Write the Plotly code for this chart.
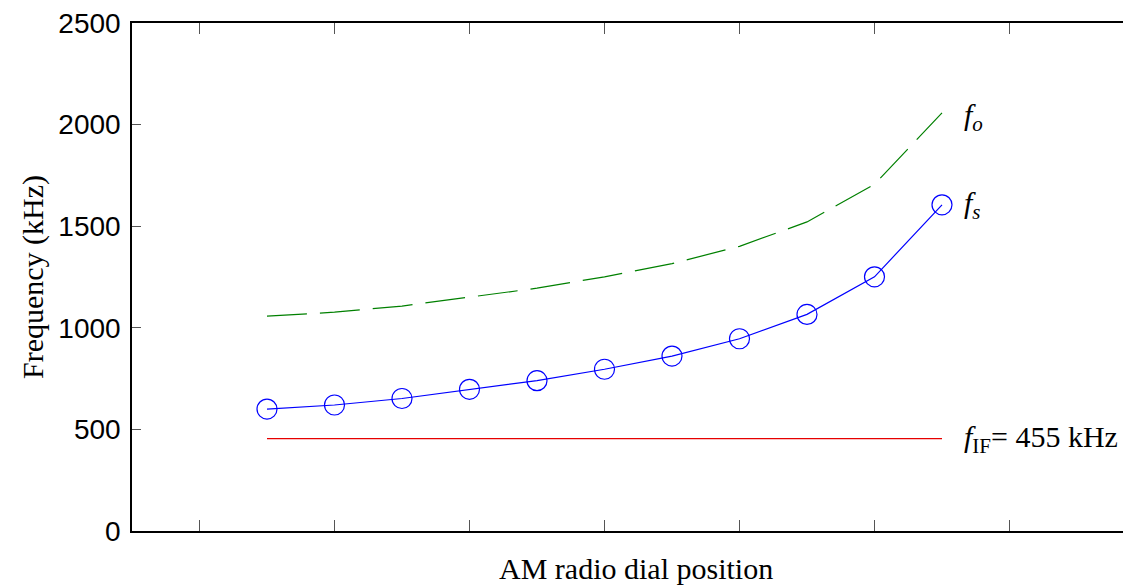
import plotly.graph_objects as go

# Dial positions
dial = [1, 2, 3, 4, 5, 6, 7, 8, 9, 10, 11]
# Signal frequency f_s (kHz)
fs_khz = [600, 620, 652, 697, 740, 796, 861, 946, 1066, 1251, 1605]
# Local oscillator frequency f_o (kHz)
fo_khz = [1057, 1077, 1107, 1152, 1195, 1251, 1316, 1401, 1521, 1706, 2058]
# Intermediate frequency line
if_x = [1, 11]
if_khz = [455, 455]

x_ticks = [0, 2, 4, 6, 8, 10, 12]
y_ticks = [0, 500, 1000, 1500, 2000, 2500]

fig = go.Figure()

fig.add_trace(go.Scatter(
    x=dial, y=fo_khz, mode="lines",
    line=dict(color="rgb(0,128,0)", width=1.2, dash="40px,13px"),
    showlegend=False))

fig.add_trace(go.Scatter(
    x=dial, y=fs_khz, mode="lines+markers",
    line=dict(color="rgb(0,0,255)", width=1.2),
    marker=dict(symbol="circle-open", size=20, color="rgb(0,0,255)",
                line=dict(width=1.2, color="rgb(0,0,255)")),
    showlegend=False))

fig.add_trace(go.Scatter(
    x=if_x, y=if_khz, mode="lines",
    line=dict(color="rgb(230,0,0)", width=1.2),
    showlegend=False))

serif = "Liberation Serif, Times New Roman, serif"
ann_font = dict(family=serif, size=30, color="black")

fig.add_annotation(x=11.3, y=fo_khz[-1] - 20, text="<i>f<sub>o</sub></i>",
                   showarrow=False, xanchor="left", yanchor="middle", font=ann_font)
fig.add_annotation(x=11.3, y=fs_khz[-1], text="<i>f<sub>s</sub></i>",
                   showarrow=False, xanchor="left", yanchor="middle", font=ann_font)
fig.add_annotation(x=11.3, y=if_khz[0], text="<i>f</i><sub>IF</sub>= 455 kHz",
                   showarrow=False, xanchor="left", yanchor="middle", font=ann_font)

# Axis titles
title_font = dict(family=serif, size=30, color="black")
fig.add_annotation(xref="paper", yref="paper", x=0.505, y=0, yshift=-37,
                   text="AM radio dial position", showarrow=False,
                   xanchor="center", yanchor="middle", font=title_font)
fig.add_annotation(xref="paper", yref="paper", x=0, y=0.5, xshift=-99,
                   text="Frequency (kHz)", showarrow=False, textangle=-90,
                   xanchor="center", yanchor="middle", font=title_font)

# page body adds an 8px offset; size the figure to fill the remaining window
fig.update_layout(
    width=1123, height=577,
    margin=dict(l=124, r=0, t=15, b=54),
    paper_bgcolor="white", plot_bgcolor="white",
    showlegend=False,
)

fig.update_xaxes(
    range=[-1, 13.8], tickvals=x_ticks, showticklabels=False,
    ticks="inside", ticklen=11, tickcolor="#555555", tickwidth=1,
    showline=True, linecolor="black", linewidth=1.5, mirror="ticks",
    showgrid=False, zeroline=False, automargin=False,
)
fig.update_yaxes(
    range=[0, 2500], tickvals=y_ticks,
    ticks="inside", ticklen=9, tickcolor="#555555", tickwidth=1,
    showline=True, linecolor="black", linewidth=1.5, mirror=False,
    showgrid=False, zeroline=False, automargin=False, ticklabelstandoff=4,
    ticklabeloverflow="allow",
    tickfont=dict(family="Liberation Sans, Arial, sans-serif", size=28, color="black"),
)

fig.write_html("out.html")
